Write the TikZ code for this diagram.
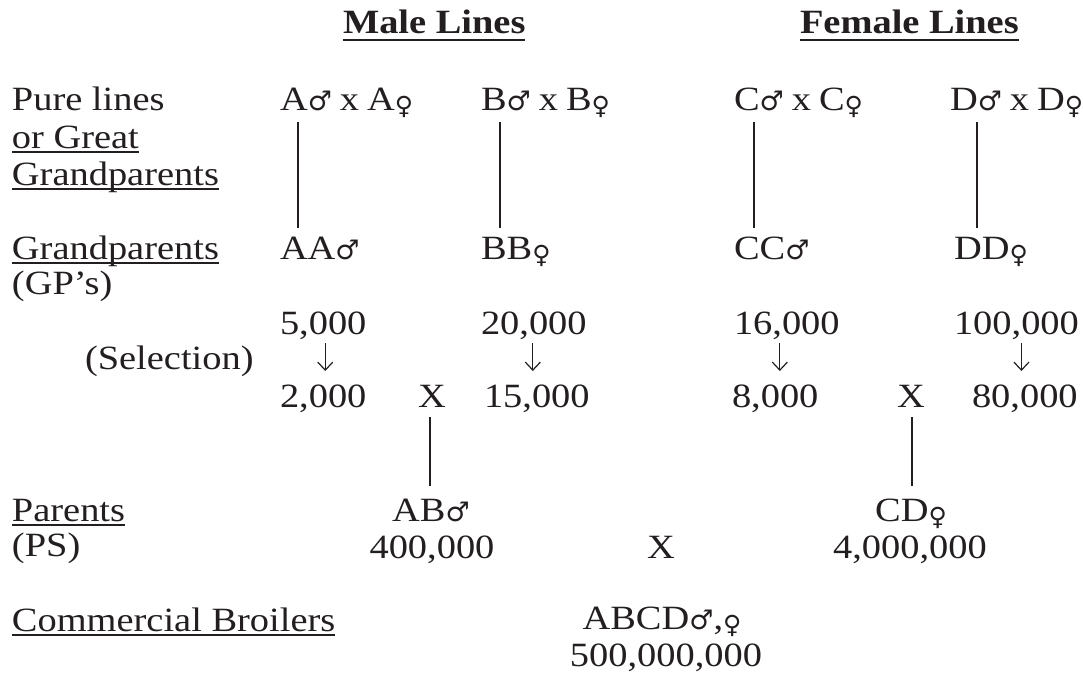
\documentclass[tikz,border=0pt]{standalone}
\usepackage{fontspec}
\setmainfont[FakeStretch=1.13]{Liberation Serif}
\newfontfamily\symfont{DejaVu Sans}
\usetikzlibrary{arrows.meta,calc}
\definecolor{ink}{RGB}{35,31,32}
\newcommand{\msym}{{\symfont\fontsize{27}{27}\selectfont ♂}}
\newcommand{\fsym}{\raisebox{-4pt}{\symfont\fontsize{25}{25}\selectfont ♀}}
\newcommand{\cross}[2]{#1\msym\hspace{8pt}x\hspace{8pt}#2\fsym}
\tikzset{
  txt/.style={anchor=base west, inner sep=0pt, outer sep=0pt, text=ink, font=\fontsize{34}{40}\selectfont},
  ctr/.style={txt, anchor=base},
  head/.style={txt, font=\fontsize{34}{40}\selectfont\bfseries},
  link/.style={draw=ink, line width=1.3pt},
  uline/.style={draw=ink, line width=1.3pt},
  hline/.style={draw=ink, line width=2pt},
  selarrow/.style={draw=ink, line width=1.2pt, -{Straight Barb[length=8pt,width=15pt,line width=1.2pt]}}
}
\begin{document}
\begin{tikzpicture}[x=1pt,y=-1pt]
\useasboundingbox[fill=white] (0,0) rectangle (1083,673);
% headings
\node[head] (male) at (343,33) {Male Lines};
\node[head] (female) at (800,33) {Female Lines};
\draw[hline] ($(male.base west)+(0,7)$) -- ($(male.base east)+(0,7)$);
\draw[hline] ($(female.base west)+(0,7)$) -- ($(female.base east)+(0,7)$);
% left labels
\node[txt] (pure) at (12,110) {Pure lines};
\node[txt] (great) at (12,148) {or Great};
\node[txt] (ggp) at (12,185) {Grandparents};
\node[txt] (gp) at (12,259) {Grandparents};
\node[txt] (gps) at (12,294) {(GP’s)};
\node[txt] (sel) at (85,369) {(Selection)};
\node[txt] (par) at (12,521) {Parents};
\node[txt] (ps) at (12,556) {(PS)};
\node[txt] (com) at (12,631) {Commercial Broilers};
\foreach \n in {great,ggp,gp,par,com}
  \draw[uline] ($(\n.base west)+(0,4)$) -- ($(\n.base east)+(0,4)$);
% pure lines
\node[txt] (a1) at (280,110) {\cross{A}{A}};
\node[txt] (b1) at (481,110) {\cross{B}{B}};
\node[txt] (c1) at (734,110) {\cross{C}{C}};
\node[txt] (d1) at (950,110) {\cross{D}{D}};
% grandparents
\node[txt] (a2) at (280,259) {AA\msym};
\node[txt] (b2) at (481,259) {BB\fsym};
\node[txt] (c2) at (734,259) {CC\msym};
\node[txt] (d2) at (954,259) {DD\fsym};
\draw[link] ($(a1.base west)+(18,12)$) -- ($(a2.base west)+(18,-31)$);
\draw[link] ($(b1.base west)+(19,12)$) -- ($(b2.base west)+(19,-31)$);
\draw[link] ($(c1.base west)+(20,12)$) -- ($(c2.base west)+(20,-31)$);
\draw[link] ($(d1.base west)+(27,12)$) -- ($(d2.base west)+(23,-31)$);
% numbers
\node[txt] (a3) at (280,334) {5,000};
\node[txt] (b3) at (481,334) {20,000};
\node[txt] (c3) at (734,334) {16,000};
\node[txt] (d3) at (954,334) {100,000};
\node[txt] (a4) at (280,407) {2,000};
\node[txt] (b4) at (484,407) {15,000};
\node[txt] (c4) at (732,407) {8,000};
\node[txt] (d4) at (972,407) {80,000};
\node[ctr] (xm) at (432,407) {X};
\node[ctr] (xf) at (911,407) {X};
\draw[selarrow] ($(a3.base)+(2,9)$) -- ($(a3.base |- a4.base)+(2,-36)$);
\draw[selarrow] ($(b3.base)+(-1,9)$) -- ($(b3.base |- b4.base)+(-1,-36)$);
\draw[selarrow] ($(c3.base)+(-7,9)$) -- ($(c3.base |- c4.base)+(-7,-36)$);
\draw[selarrow] ($(d3.base)+(5,9)$) -- ($(d3.base |- d4.base)+(5,-36)$);
% parents
\node[ctr] (abm) at (431,521) {AB\msym};
\node[ctr] (cdf) at (911,521) {CD\fsym};
\node[ctr] (abn) at (432,558) {400,000};
\node[ctr] (xp) at (661,558) {X};
\node[ctr] (cdn) at (910,558) {4,000,000};
\draw[link] ($(xm.base)+(-2,10)$) -- ($(xm.base |- abm.base)+(-2,-35)$);
\draw[link] ($(xf.base)+(1,10)$) -- ($(xf.base |- cdf.base)+(1,-35)$);
% commercial
\node[ctr] (abcd) at (662,629) {ABCD\msym,\fsym};
\node[ctr] (abcdn) at (666,666) {500,000,000};
\end{tikzpicture}
\end{document}
